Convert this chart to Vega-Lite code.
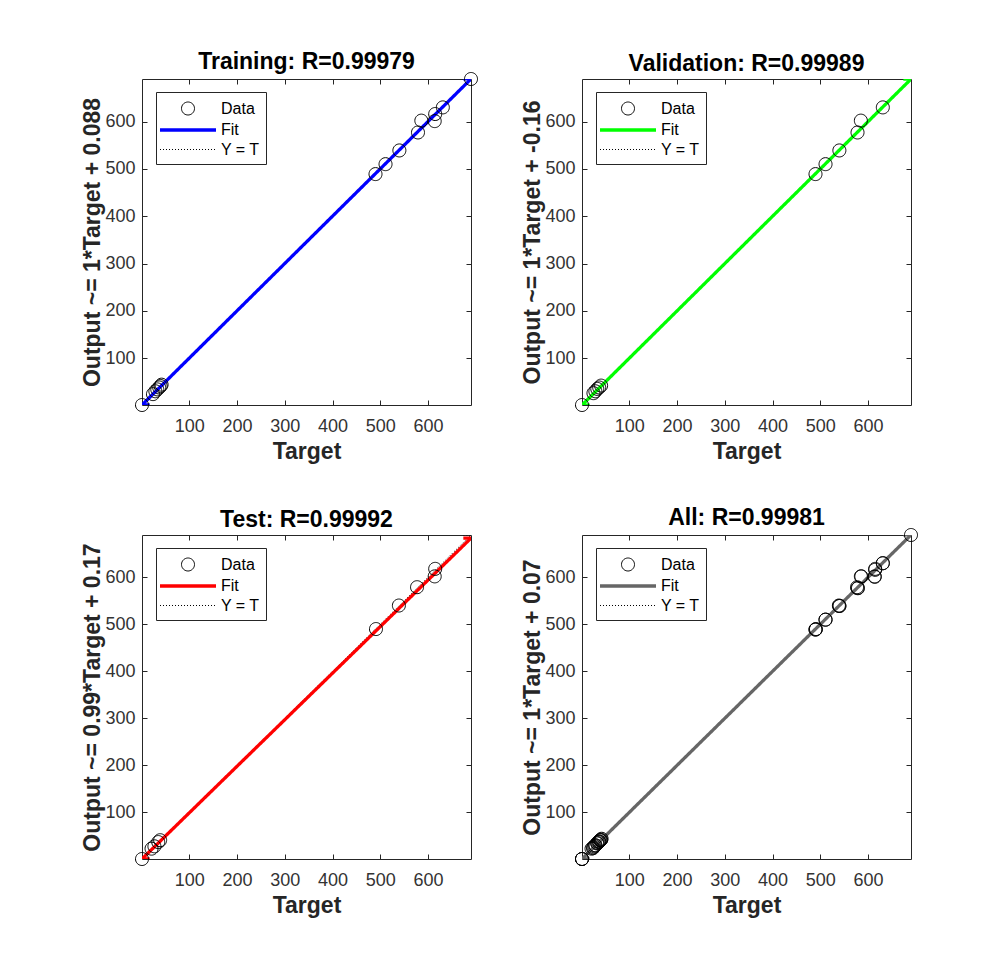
{
  "$schema": "https://vega.github.io/schema/vega-lite/v6.json",
  "background": "white",
  "padding": {"left": 81, "top": 51, "right": 10, "bottom": 10},
  "data": {"values": [
    {"panel": "Training", "series": "Data", "target": 1, "output": 1},
    {"panel": "Training", "series": "Data", "target": 24, "output": 24},
    {"panel": "Training", "series": "Data", "target": 29, "output": 30},
    {"panel": "Training", "series": "Data", "target": 33, "output": 34},
    {"panel": "Training", "series": "Data", "target": 37, "output": 38},
    {"panel": "Training", "series": "Data", "target": 40, "output": 41},
    {"panel": "Training", "series": "Data", "target": 42, "output": 44},
    {"panel": "Training", "series": "Data", "target": 490, "output": 489},
    {"panel": "Training", "series": "Data", "target": 511, "output": 510},
    {"panel": "Training", "series": "Data", "target": 540, "output": 539},
    {"panel": "Training", "series": "Data", "target": 579, "output": 577},
    {"panel": "Training", "series": "Data", "target": 586, "output": 602},
    {"panel": "Training", "series": "Data", "target": 614, "output": 601},
    {"panel": "Training", "series": "Data", "target": 615, "output": 616},
    {"panel": "Training", "series": "Data", "target": 631, "output": 630},
    {"panel": "Training", "series": "Data", "target": 690, "output": 690},
    {"panel": "Validation", "series": "Data", "target": 1, "output": 1},
    {"panel": "Validation", "series": "Data", "target": 25, "output": 26},
    {"panel": "Validation", "series": "Data", "target": 29, "output": 30},
    {"panel": "Validation", "series": "Data", "target": 33, "output": 35},
    {"panel": "Validation", "series": "Data", "target": 37, "output": 38},
    {"panel": "Validation", "series": "Data", "target": 41, "output": 42},
    {"panel": "Validation", "series": "Data", "target": 490, "output": 489},
    {"panel": "Validation", "series": "Data", "target": 511, "output": 510},
    {"panel": "Validation", "series": "Data", "target": 540, "output": 539},
    {"panel": "Validation", "series": "Data", "target": 578, "output": 577},
    {"panel": "Validation", "series": "Data", "target": 585, "output": 602},
    {"panel": "Validation", "series": "Data", "target": 631, "output": 630},
    {"panel": "Test", "series": "Data", "target": 1, "output": 1},
    {"panel": "Test", "series": "Data", "target": 21, "output": 23},
    {"panel": "Test", "series": "Data", "target": 27, "output": 28},
    {"panel": "Test", "series": "Data", "target": 35, "output": 37},
    {"panel": "Test", "series": "Data", "target": 39, "output": 41},
    {"panel": "Test", "series": "Data", "target": 491, "output": 490},
    {"panel": "Test", "series": "Data", "target": 539, "output": 540},
    {"panel": "Test", "series": "Data", "target": 577, "output": 579},
    {"panel": "Test", "series": "Data", "target": 614, "output": 602},
    {"panel": "Test", "series": "Data", "target": 615, "output": 618},
    {"panel": "Training", "series": "Fit", "target": 1, "output": 1.088},
    {"panel": "Training", "series": "Fit", "target": 690, "output": 690.088},
    {"panel": "Validation", "series": "Fit", "target": 1, "output": 0.84},
    {"panel": "Validation", "series": "Fit", "target": 690, "output": 689.84},
    {"panel": "Test", "series": "Fit", "target": 1, "output": 1.16},
    {"panel": "Test", "series": "Fit", "target": 690, "output": 683.27},
    {"panel": "All", "series": "Fit", "target": 1, "output": 1.07},
    {"panel": "All", "series": "Fit", "target": 690, "output": 690.07},
    {"panel": "Training", "series": "Y = T", "target": 1, "output": 1},
    {"panel": "Training", "series": "Y = T", "target": 690, "output": 690},
    {"panel": "Validation", "series": "Y = T", "target": 1, "output": 1},
    {"panel": "Validation", "series": "Y = T", "target": 690, "output": 690},
    {"panel": "Test", "series": "Y = T", "target": 1, "output": 1},
    {"panel": "Test", "series": "Y = T", "target": 690, "output": 690},
    {"panel": "All", "series": "Y = T", "target": 1, "output": 1},
    {"panel": "All", "series": "Y = T", "target": 690, "output": 690}
  ]},
  "columns": 2,
  "spacing": {"row": 130, "column": 111},
  "bounds": "flush",
  "resolve": {
    "scale": {"stroke": "independent", "strokeDash": "independent", "strokeWidth": "independent", "shape": "independent"},
    "legend": {"stroke": "independent", "strokeDash": "independent", "strokeWidth": "independent", "shape": "independent"}
  },
  "concat": [
    {
      "title": "Training: R=0.99979",
      "width": 329, "height": 326,
      "transform": [{"filter": "datum.panel == 'Training'"}],
      "encoding": {
        "stroke": {"field": "series", "type": "nominal", "scale": {"domain": ["Data", "Fit", "Y = T"], "range": ["#000000", "#0000ff", "#000000"]}, "legend": {"title": null, "symbolOffset": 14, "encode": {"symbols": {"update": {"fill": {"value": "transparent"}}}}}},
        "strokeDash": {"field": "series", "type": "nominal", "scale": {"domain": ["Data", "Fit", "Y = T"], "range": [[1, 0], [1, 0], [1, 2]]}, "legend": {"title": null}},
        "strokeWidth": {"field": "series", "type": "ordinal", "scale": {"type": "ordinal", "domain": ["Data", "Fit", "Y = T"], "range": [1, 3.3, 1]}, "legend": {"title": null}},
        "shape": {"field": "series", "type": "nominal", "scale": {"domain": ["Data", "Fit", "Y = T"], "range": ["M-0.65,0A0.65,0.65 0 1,0 0.65,0A0.65,0.65 0 1,0 -0.65,0Z", "M-2.8,0H2.8", "M-2.8,0H2.8"]}, "legend": {"title": null}}
      },
      "resolve": {"axis": {"x": "independent", "y": "independent"}},
      "layer": [
        {"transform": [{"filter": "datum.series == 'Y = T'"}], "mark": {"type": "line", "clip": true},
         "encoding": {
           "x": {"field": "target", "type": "quantitative", "scale": {"domain": [1, 690], "nice": false, "zero": false}, "axis": {"orient": "top", "labels": false, "title": null, "values": [100, 200, 300, 400, 500, 600]}},
           "y": {"field": "output", "type": "quantitative", "scale": {"domain": [1, 690], "nice": false, "zero": false}, "axis": {"orient": "right", "labels": false, "title": null, "values": [100, 200, 300, 400, 500, 600]}}}},
        {"transform": [{"filter": "datum.series == 'Fit'"}], "mark": {"type": "line", "clip": true},
         "encoding": {
           "x": {"field": "target", "type": "quantitative", "scale": {"domain": [1, 690], "nice": false, "zero": false}, "axis": {"title": "Target", "values": [100, 200, 300, 400, 500, 600]}},
           "y": {"field": "output", "type": "quantitative", "scale": {"domain": [1, 690], "nice": false, "zero": false}, "axis": {"title": "Output ~= 1*Target + 0.088", "values": [100, 200, 300, 400, 500, 600]}}}},
        {"transform": [{"filter": "datum.series == 'Y = T'"}], "mark": {"type": "point", "size": 400, "filled": false, "opacity": 0},
         "encoding": {
           "x": {"field": "target", "type": "quantitative", "axis": null},
           "y": {"field": "output", "type": "quantitative", "axis": null},
           "shape": {"value": "M-0.65,0A0.65,0.65 0 1,0 0.65,0A0.65,0.65 0 1,0 -0.65,0Z"}}},
        {"transform": [{"filter": "datum.series == 'Data'"}], "mark": {"type": "point", "size": 400, "filled": false, "fill": "transparent", "opacity": 1},
         "encoding": {
           "x": {"field": "target", "type": "quantitative", "axis": null},
           "y": {"field": "output", "type": "quantitative", "axis": null}}}
      ]
    },
    {
      "title": "Validation: R=0.99989",
      "width": 329, "height": 326,
      "transform": [{"filter": "datum.panel == 'Validation'"}],
      "encoding": {
        "stroke": {"field": "series", "type": "nominal", "scale": {"domain": ["Data", "Fit", "Y = T"], "range": ["#000000", "#00ff00", "#000000"]}, "legend": {"title": null, "symbolOffset": 14, "encode": {"symbols": {"update": {"fill": {"value": "transparent"}}}}}},
        "strokeDash": {"field": "series", "type": "nominal", "scale": {"domain": ["Data", "Fit", "Y = T"], "range": [[1, 0], [1, 0], [1, 2]]}, "legend": {"title": null}},
        "strokeWidth": {"field": "series", "type": "ordinal", "scale": {"type": "ordinal", "domain": ["Data", "Fit", "Y = T"], "range": [1, 3.3, 1]}, "legend": {"title": null}},
        "shape": {"field": "series", "type": "nominal", "scale": {"domain": ["Data", "Fit", "Y = T"], "range": ["M-0.65,0A0.65,0.65 0 1,0 0.65,0A0.65,0.65 0 1,0 -0.65,0Z", "M-2.8,0H2.8", "M-2.8,0H2.8"]}, "legend": {"title": null}}
      },
      "resolve": {"axis": {"x": "independent", "y": "independent"}},
      "layer": [
        {"transform": [{"filter": "datum.series == 'Y = T'"}], "mark": {"type": "line", "clip": true},
         "encoding": {
           "x": {"field": "target", "type": "quantitative", "scale": {"domain": [1, 690], "nice": false, "zero": false}, "axis": {"orient": "top", "labels": false, "title": null, "values": [100, 200, 300, 400, 500, 600]}},
           "y": {"field": "output", "type": "quantitative", "scale": {"domain": [1, 690], "nice": false, "zero": false}, "axis": {"orient": "right", "labels": false, "title": null, "values": [100, 200, 300, 400, 500, 600]}}}},
        {"transform": [{"filter": "datum.series == 'Fit'"}], "mark": {"type": "line", "clip": true},
         "encoding": {
           "x": {"field": "target", "type": "quantitative", "scale": {"domain": [1, 690], "nice": false, "zero": false}, "axis": {"title": "Target", "values": [100, 200, 300, 400, 500, 600]}},
           "y": {"field": "output", "type": "quantitative", "scale": {"domain": [1, 690], "nice": false, "zero": false}, "axis": {"title": "Output ~= 1*Target + -0.16", "values": [100, 200, 300, 400, 500, 600]}}}},
        {"transform": [{"filter": "datum.series == 'Y = T'"}], "mark": {"type": "point", "size": 400, "filled": false, "opacity": 0},
         "encoding": {
           "x": {"field": "target", "type": "quantitative", "axis": null},
           "y": {"field": "output", "type": "quantitative", "axis": null},
           "shape": {"value": "M-0.65,0A0.65,0.65 0 1,0 0.65,0A0.65,0.65 0 1,0 -0.65,0Z"}}},
        {"transform": [{"filter": "datum.series == 'Data'"}], "mark": {"type": "point", "size": 400, "filled": false, "fill": "transparent", "opacity": 1},
         "encoding": {
           "x": {"field": "target", "type": "quantitative", "axis": null},
           "y": {"field": "output", "type": "quantitative", "axis": null}}}
      ]
    },
    {
      "title": "Test: R=0.99992",
      "width": 329, "height": 324,
      "transform": [{"filter": "datum.panel == 'Test'"}],
      "encoding": {
        "stroke": {"field": "series", "type": "nominal", "scale": {"domain": ["Data", "Fit", "Y = T"], "range": ["#000000", "#ff0000", "#000000"]}, "legend": {"title": null, "symbolOffset": 14, "encode": {"symbols": {"update": {"fill": {"value": "transparent"}}}}}},
        "strokeDash": {"field": "series", "type": "nominal", "scale": {"domain": ["Data", "Fit", "Y = T"], "range": [[1, 0], [1, 0], [1, 2]]}, "legend": {"title": null}},
        "strokeWidth": {"field": "series", "type": "ordinal", "scale": {"type": "ordinal", "domain": ["Data", "Fit", "Y = T"], "range": [1, 3.3, 1]}, "legend": {"title": null}},
        "shape": {"field": "series", "type": "nominal", "scale": {"domain": ["Data", "Fit", "Y = T"], "range": ["M-0.65,0A0.65,0.65 0 1,0 0.65,0A0.65,0.65 0 1,0 -0.65,0Z", "M-2.8,0H2.8", "M-2.8,0H2.8"]}, "legend": {"title": null}}
      },
      "resolve": {"axis": {"x": "independent", "y": "independent"}},
      "layer": [
        {"transform": [{"filter": "datum.series == 'Y = T'"}], "mark": {"type": "line", "clip": true},
         "encoding": {
           "x": {"field": "target", "type": "quantitative", "scale": {"domain": [1, 690], "nice": false, "zero": false}, "axis": {"orient": "top", "labels": false, "title": null, "values": [100, 200, 300, 400, 500, 600]}},
           "y": {"field": "output", "type": "quantitative", "scale": {"domain": [1, 690], "nice": false, "zero": false}, "axis": {"orient": "right", "labels": false, "title": null, "values": [100, 200, 300, 400, 500, 600]}}}},
        {"transform": [{"filter": "datum.series == 'Fit'"}], "mark": {"type": "line", "clip": true},
         "encoding": {
           "x": {"field": "target", "type": "quantitative", "scale": {"domain": [1, 690], "nice": false, "zero": false}, "axis": {"title": "Target", "values": [100, 200, 300, 400, 500, 600]}},
           "y": {"field": "output", "type": "quantitative", "scale": {"domain": [1, 690], "nice": false, "zero": false}, "axis": {"title": "Output ~= 0.99*Target + 0.17", "values": [100, 200, 300, 400, 500, 600]}}}},
        {"transform": [{"filter": "datum.series == 'Y = T'"}], "mark": {"type": "point", "size": 400, "filled": false, "opacity": 0},
         "encoding": {
           "x": {"field": "target", "type": "quantitative", "axis": null},
           "y": {"field": "output", "type": "quantitative", "axis": null},
           "shape": {"value": "M-0.65,0A0.65,0.65 0 1,0 0.65,0A0.65,0.65 0 1,0 -0.65,0Z"}}},
        {"transform": [{"filter": "datum.series == 'Data'"}], "mark": {"type": "point", "size": 400, "filled": false, "fill": "transparent", "opacity": 1},
         "encoding": {
           "x": {"field": "target", "type": "quantitative", "axis": null},
           "y": {"field": "output", "type": "quantitative", "axis": null}}}
      ]
    },
    {
      "title": "All: R=0.99981",
      "width": 329, "height": 324,
      "transform": [{"filter": "datum.panel == 'All' || datum.series == 'Data'"}],
      "encoding": {
        "stroke": {"field": "series", "type": "nominal", "scale": {"domain": ["Data", "Fit", "Y = T"], "range": ["#000000", "#666666", "#000000"]}, "legend": {"title": null, "symbolOffset": 14, "encode": {"symbols": {"update": {"fill": {"value": "transparent"}}}}}},
        "strokeDash": {"field": "series", "type": "nominal", "scale": {"domain": ["Data", "Fit", "Y = T"], "range": [[1, 0], [1, 0], [1, 2]]}, "legend": {"title": null}},
        "strokeWidth": {"field": "series", "type": "ordinal", "scale": {"type": "ordinal", "domain": ["Data", "Fit", "Y = T"], "range": [1, 3.3, 1]}, "legend": {"title": null}},
        "shape": {"field": "series", "type": "nominal", "scale": {"domain": ["Data", "Fit", "Y = T"], "range": ["M-0.65,0A0.65,0.65 0 1,0 0.65,0A0.65,0.65 0 1,0 -0.65,0Z", "M-2.8,0H2.8", "M-2.8,0H2.8"]}, "legend": {"title": null}}
      },
      "resolve": {"axis": {"x": "independent", "y": "independent"}},
      "layer": [
        {"transform": [{"filter": "datum.series == 'Y = T'"}], "mark": {"type": "line", "clip": true},
         "encoding": {
           "x": {"field": "target", "type": "quantitative", "scale": {"domain": [1, 690], "nice": false, "zero": false}, "axis": {"orient": "top", "labels": false, "title": null, "values": [100, 200, 300, 400, 500, 600]}},
           "y": {"field": "output", "type": "quantitative", "scale": {"domain": [1, 690], "nice": false, "zero": false}, "axis": {"orient": "right", "labels": false, "title": null, "values": [100, 200, 300, 400, 500, 600]}}}},
        {"transform": [{"filter": "datum.series == 'Fit'"}], "mark": {"type": "line", "clip": true},
         "encoding": {
           "x": {"field": "target", "type": "quantitative", "scale": {"domain": [1, 690], "nice": false, "zero": false}, "axis": {"title": "Target", "values": [100, 200, 300, 400, 500, 600]}},
           "y": {"field": "output", "type": "quantitative", "scale": {"domain": [1, 690], "nice": false, "zero": false}, "axis": {"title": "Output ~= 1*Target + 0.07", "values": [100, 200, 300, 400, 500, 600]}}}},
        {"transform": [{"filter": "datum.series == 'Y = T'"}], "mark": {"type": "point", "size": 400, "filled": false, "opacity": 0},
         "encoding": {
           "x": {"field": "target", "type": "quantitative", "axis": null},
           "y": {"field": "output", "type": "quantitative", "axis": null},
           "shape": {"value": "M-0.65,0A0.65,0.65 0 1,0 0.65,0A0.65,0.65 0 1,0 -0.65,0Z"}}},
        {"transform": [{"filter": "datum.series == 'Data'"}], "mark": {"type": "point", "size": 400, "filled": false, "fill": "transparent", "opacity": 1},
         "encoding": {
           "x": {"field": "target", "type": "quantitative", "axis": null},
           "y": {"field": "output", "type": "quantitative", "axis": null}}}
      ]
    }
  ],
  "config": {
    "font": "Liberation Sans",
    "view": {"stroke": null},
    "title": {"font": "Liberation Sans", "fontSize": 23, "fontWeight": "bold", "color": "#000000", "offset": -3.5, "anchor": "middle"},
    "axis": {
      "grid": false,
      "domainColor": "#262626",
      "domainWidth": 1,
      "tickColor": "#262626",
      "tickSize": -5,
      "labelFont": "Liberation Sans",
      "labelFontSize": 18,
      "labelColor": "#333333",
      "titleFont": "Liberation Sans",
      "titleFontSize": 23,
      "titleFontWeight": "bold",
      "titleColor": "#262626"
    },
    "axisX": {"labelPadding": 17, "titlePadding": 5},
    "axisY": {"labelPadding": 12, "titlePadding": 0},
    "legend": {
      "orient": "none",
      "legendX": 14,
      "legendY": 13,
      "strokeColor": "#262626",
      "fillColor": "#ffffff",
      "padding": 6,
      "symbolSize": 400,
      "symbolFillColor": "transparent",
      "labelFont": "Liberation Sans",
      "labelFontSize": 16,
      "labelColor": "#000000",
      "labelOffset": 21,
      "rowPadding": 1
    }
  }
}
